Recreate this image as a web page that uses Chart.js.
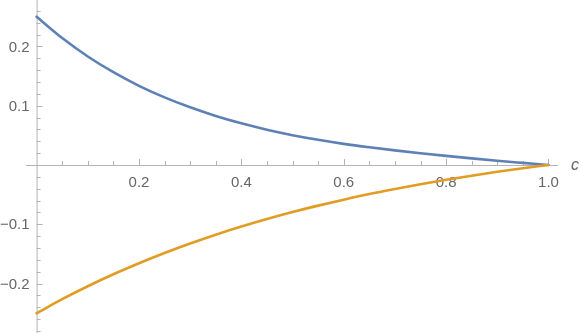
<!DOCTYPE html>
<html>
<head>
<meta charset="utf-8">
<script src="https://cdn.jsdelivr.net/npm/chart.js@4/dist/chart.umd.min.js"></script>
<style>
  html, body { margin: 0; padding: 0; background: #fff; }
  #wrap { width: 581px; height: 333px; }
</style>
</head>
<body>
<div id="wrap"><canvas id="myChart" width="581" height="333"></canvas></div>
<script>
const cValues = [0, 0.05, 0.1, 0.15, 0.2, 0.25, 0.3, 0.35, 0.4, 0.45, 0.5, 0.55, 0.6, 0.65, 0.7, 0.75, 0.8, 0.85, 0.9, 0.95, 1.0];
const blueValues = [0.25, 0.214, 0.183, 0.1565, 0.1335, 0.114, 0.0972, 0.0827, 0.0702, 0.0595, 0.0503, 0.0424, 0.0356, 0.0298, 0.0246, 0.0198, 0.0153, 0.0111, 0.0071, 0.0035, 0];
const orangeValues = [-0.25, -0.2263, -0.2045, -0.1843, -0.1656, -0.1483, -0.1323, -0.1175, -0.1038, -0.0911, -0.0793, -0.0685, -0.0585, -0.049, -0.0405, -0.0325, -0.025, -0.018, -0.0115, -0.0055, 0];

const xTicks = [0.2, 0.4, 0.6, 0.8, 1.0];
const xTickLabels = ['0.2', '0.4', '0.6', '0.8', '1.0'];
const yTicks = [0.2, 0.1, -0.1, -0.2];
const yTickLabels = ['0.2', '0.1', '\u22120.1', '\u22120.2'];
const xAxisLabel = 'c';

const axisColor = '#b4b4b4';
const textColor = '#666666';

const toPoints = (xs, ys) => xs.map((x, i) => ({ x: x, y: ys[i] }));

// draws Mathematica-style axes through the origin
const originAxes = {
	id: 'originAxes',
	beforeDatasetsDraw(chart) {
		const ctx = chart.ctx;
		const xs = chart.scales.x;
		const ys = chart.scales.y;
		const x0 = xs.getPixelForValue(0);
		const y0 = ys.getPixelForValue(0);
		const area = chart.chartArea;

		ctx.save();
		ctx.strokeStyle = axisColor;
		ctx.lineWidth = 1;
		ctx.beginPath();
		ctx.moveTo(area.left, y0 + 0.5);
		ctx.lineTo(area.right, y0 + 0.5);
		ctx.moveTo(x0 + 0.5, 0);
		ctx.lineTo(x0 + 0.5, chart.height);
		ctx.stroke();

		ctx.beginPath();
		for (let k = 1; k <= 20; k++) {
			const v = k * 0.05;
			const px = Math.round(xs.getPixelForValue(v)) + 0.5;
			const len = k % 4 === 0 ? 6 : 4;
			ctx.moveTo(px, y0);
			ctx.lineTo(px, y0 - len);
		}
		for (let k = -14; k <= 13; k++) {
			if (k === 0) continue;
			const v = k * 0.02;
			const py = Math.round(ys.getPixelForValue(v)) + 0.5;
			const len = k % 5 === 0 ? 6 : 4;
			ctx.moveTo(x0, py);
			ctx.lineTo(x0 + len, py);
		}
		ctx.stroke();

		ctx.fillStyle = textColor;
		ctx.font = '15px "Liberation Sans", Arial, sans-serif';
		ctx.textAlign = 'center';
		ctx.textBaseline = 'middle';
		xTicks.forEach((v, i) => {
			ctx.fillText(xTickLabels[i], xs.getPixelForValue(v), y0 + 18);
		});
		ctx.textAlign = 'right';
		yTicks.forEach((v, i) => {
			ctx.fillText(yTickLabels[i], x0 - 7, ys.getPixelForValue(v) + 1);
		});
		ctx.font = 'italic 16px "Liberation Sans", Arial, sans-serif';
		ctx.textAlign = 'center';
		ctx.fillText(xAxisLabel, area.right + 17, y0 + 1);
		ctx.restore();
	}
};

new Chart(document.getElementById('myChart').getContext('2d'), {
	type: 'line',
	data: {
		datasets: [
			{
				data: toPoints(cValues, blueValues),
				borderColor: '#5e81b5',
				borderWidth: 2.6,
				order: 1
			},
			{
				data: toPoints(cValues, orangeValues),
				borderColor: '#e19c24',
				borderWidth: 2.6,
				order: 0
			}
		]
	},
	options: {
		responsive: false,
		animation: false,
		events: [],
		layout: { padding: { left: 26, right: 23, top: 0, bottom: 0 } },
		elements: {
			point: { radius: 0 },
			line: { cubicInterpolationMode: 'monotone', fill: false, borderCapStyle: 'round' }
		},
		plugins: {
			legend: { display: false },
			tooltip: { enabled: false }
		},
		scales: {
			x: { type: 'linear', min: -0.0207, max: 1.0186, display: false },
			y: { type: 'linear', min: -0.2833, max: 0.2782, display: false }
		}
	},
	plugins: [originAxes]
});
</script>
</body>
</html>
